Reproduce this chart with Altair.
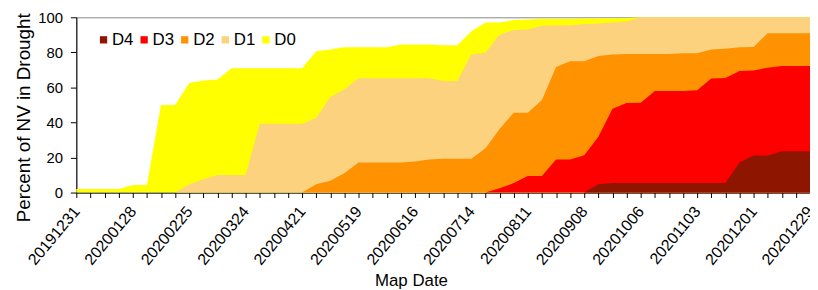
import altair as alt
import pandas as pd

dates = [
    "20191231", "20200107", "20200114", "20200121", "20200128", "20200204",
    "20200211", "20200218", "20200225", "20200303", "20200310", "20200317",
    "20200324", "20200331", "20200407", "20200414", "20200421", "20200428",
    "20200505", "20200512", "20200519", "20200526", "20200602", "20200609",
    "20200616", "20200623", "20200630", "20200707", "20200714", "20200721",
    "20200728", "20200804", "20200811", "20200818", "20200825", "20200901",
    "20200908", "20200915", "20200922", "20200929", "20201006", "20201013",
    "20201020", "20201027", "20201103", "20201110", "20201117", "20201124",
    "20201201", "20201208", "20201215", "20201222", "20201229",
]
tick_labels = [
    "20191231", "20200128", "20200225", "20200324", "20200421", "20200519",
    "20200616", "20200714", "20200811", "20200908", "20201006", "20201103",
    "20201201", "20201229",
]

d0 = [2, 2, 2, 2, 4.3, 4.3, 50, 50, 62.5, 64, 64.5, 71, 71, 71, 71, 71, 71,
      80.7, 81.6, 82.9, 82.9, 82.9, 82.9, 84.5, 84.5, 84.5, 84.1, 84.1, 92,
      97.1, 97.1, 98.4, 98.8, 99.2, 99.2, 99.2, 99.3, 99.4, 99.5, 99.6,
      100, 100, 100, 100, 100, 100, 100, 100, 100, 100, 100, 100, 100]
d1 = [0, 0, 0, 0, 0, 0, 0, 0, 4.8, 7.6, 10, 10, 10, 39.3, 39.3, 39.3, 39.3,
      42.5, 54.5, 59, 65.2, 65.2, 65.2, 65.2, 65.2, 65.2, 63.7, 63.7, 78.8,
      79.8, 90, 92.7, 93, 95.2, 95.3, 95.5, 96, 96.5, 97, 97.6,
      100, 100, 100, 100, 100, 100, 100, 100, 100, 100, 100, 100, 100]
d2 = [0, 0, 0, 0, 0, 0, 0, 0, 0, 0, 0, 0, 0, 0, 0, 0, 0,
      4.8, 6.7, 11, 17.1, 17.1, 17.1, 17.1, 17.7, 18.9, 19.3, 19.3, 19.3,
      25.3, 36.3, 45.6, 45.6, 52.8, 71.6, 74.9, 74.9, 77.9, 78.8, 79.1,
      79.1, 79.1, 79.1, 79.5, 79.5, 81.6, 82, 82.9, 83.1, 90.9, 90.9, 90.9, 90.9]
d3 = [0, 0, 0, 0, 0, 0, 0, 0, 0, 0, 0, 0, 0, 0, 0, 0, 0, 0, 0, 0, 0, 0, 0, 0,
      0, 0, 0, 0, 0, 0, 2.4, 5.4, 9.5, 9.4, 18.9, 18.9, 21.3, 31.8, 47.8, 51.1,
      51.3, 58, 58, 58, 58.4, 65.1, 65.4, 69.4, 69.7, 71.2, 72.2, 72.2, 72.2]
d4 = [0, 0, 0, 0, 0, 0, 0, 0, 0, 0, 0, 0, 0, 0, 0, 0, 0, 0, 0, 0, 0, 0, 0, 0,
      0, 0, 0, 0, 0, 0, 0, 0, 0, 0, 0, 0, 0, 4.8, 5.4, 5.4, 5.4, 5.4, 5.4, 5.4,
      5.4, 5.4, 5.5, 17.1, 21.2, 21.2, 23.6, 23.6, 23.6]

levels = ["D4", "D3", "D2", "D1", "D0"]
colors = ["#8E1500", "#FF0000", "#FF9200", "#FDD27F", "#FFFF00"]
series = {"D0": d0, "D1": d1, "D2": d2, "D3": d3, "D4": d4}

rows = []
for lv, vals in series.items():
    for dt, v in zip(dates, vals):
        rows.append({"date": dt, "level": lv, "value": v})
df = pd.DataFrame(rows)

FONT = "Liberation Sans"
label_list = ",".join("'" + s + "'" for s in tick_labels)

x = alt.X(
    "date:O",
    sort=dates,
    scale=alt.Scale(type="point", padding=0),
    axis=alt.Axis(
        title="Map Date",
        labelExpr="indexof([" + label_list + "], datum.value) >= 0 ? datum.value : ''",
        labelAngle=-50,
        labelAlign="right",
        labelBaseline="middle",
        labelFontSize=16,
        labelOverlap=False,
        labelPadding=11,
        tickSize=5,
        titleFontSize=17,
        titleFontWeight="normal",
        titleX=338,
        titleY=81,
        titleBaseline="top",
        titleAlign="center",
    ),
)
y = alt.Y(
    "value:Q",
    stack=None,
    scale=alt.Scale(domain=[0, 100], nice=False),
    axis=alt.Axis(
        title="Percent of NV in Drought",
        values=[0, 20, 40, 60, 80, 100],
        labelFontSize=15,
        labelPadding=8,
        tickSize=6,
        grid=False,
        titleFontSize=19,
        titleFontWeight="normal",
        titleX=-43,
        titleY=101,
    ),
)
color = alt.Color(
    "level:N",
    scale=alt.Scale(domain=levels, range=colors),
    legend=alt.Legend(
        title=None,
        orient="none",
        legendX=19,
        legendY=14,
        direction="horizontal",
        symbolType="square",
        symbolSize=54,
        symbolStrokeWidth=0,
        labelFontSize=17,
        labelOffset=0,
        columnPadding=2,
        padding=0,
    ),
)

layers = [
    alt.Chart(df)
    .transform_filter(alt.datum.level == lv)
    .mark_area(interpolate="linear", opacity=1)
    .encode(x=x, y=y, color=color)
    for lv in ["D0", "D1", "D2", "D3", "D4"]
]

chart = (
    alt.layer(*layers)
    .properties(
        width=741,
        height=177,
        autosize=alt.AutoSizeParams(type="none"),
        padding={"left": 69, "top": 8, "right": 0, "bottom": 97},
        background="white",
    )
    .configure_view(stroke="#888888", strokeWidth=1)
    .configure_axis(
        domainColor="#000000",
        tickColor="#000000",
        labelColor="#000000",
        titleColor="#000000",
        labelFont=FONT,
        titleFont=FONT,
    )
    .configure_legend(labelFont=FONT, labelColor="#000000")
)

chart.save("out.html", embed_options={"renderer": "svg", "actions": False})
